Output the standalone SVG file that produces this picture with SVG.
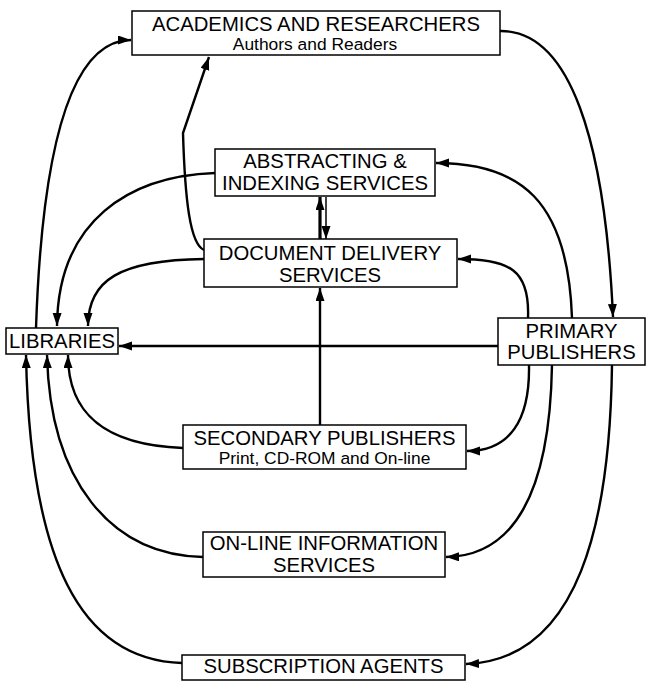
<svg xmlns="http://www.w3.org/2000/svg" width="650" height="691" viewBox="0 0 650 691">
<style>
.box{fill:#fff;stroke:#000;stroke-width:1.5}
.t{font-family:"Liberation Sans",Arial,sans-serif;font-size:20.3px;fill:#000;text-anchor:middle}
.s{font-family:"Liberation Sans",Arial,sans-serif;font-size:17.4px;fill:#000;text-anchor:middle}
.c{fill:none;stroke:#000;stroke-width:2.4;marker-end:url(#ah)}
</style>
<defs>
<marker id="ah" markerUnits="userSpaceOnUse" markerWidth="14" markerHeight="10" refX="13" refY="4.5" orient="auto">
<path d="M0,0 L13,4.5 L0,9 z" fill="#000"/>
</marker>
</defs>
<rect width="650" height="691" fill="#fff"/>
<g id="connectors">
<path class="c" d="M36,328 C42,150 70,40 131,40"/>
<path class="c" d="M500,31 C570,30 605,140 613,317"/>
<path class="c" d="M204,250 C190,244 185,200 183,133 L209,57"/>
<path class="c" d="M215,173 C130,176 58,220 57,326"/>
<path class="c" d="M204,259 C120,260 88,280 88,326"/>
<path class="c" d="M498,346 L119,346"/>
<path class="c" d="M572,318 C568,200 520,163 436,163"/>
<path class="c" d="M528,318 C530,270 510,259 458,259"/>
<path fill="none" stroke="#000" stroke-width="3.2" marker-end="url(#ah)" d="M320,239 L320,197"/>
<path fill="none" stroke="#000" stroke-width="1.5" marker-end="url(#ah)" d="M326,197 L326,239"/>
<path class="c" d="M320,425 L320,288"/>
<path class="c" d="M183,448 C100,445 68,410 68,355"/>
<path class="c" d="M529,365 C530,420 510,451 467,451"/>
<path class="c" d="M552,365 C550,480 520,556 446,557"/>
<path class="c" d="M612,365 C610,520 580,660 466,664"/>
<path class="c" d="M182,663 C80,660 30,560 26,355"/>
<path class="c" d="M203,557 C110,555 50,480 47,355"/>
</g>
<g id="academics">
<rect class="box" x="132" y="11" width="368" height="44"/>
<text class="t" x="316" y="31">ACADEMICS AND RESEARCHERS</text>
<text class="s" x="315" y="50">Authors and Readers</text>
</g>
<g id="abstracting">
<rect class="box" x="215" y="149" width="220" height="47"/>
<text class="t" x="325" y="168">ABSTRACTING &amp;</text>
<text class="t" x="325" y="190">INDEXING SERVICES</text>
</g>
<g id="document-delivery">
<rect class="box" x="204" y="239" width="253" height="48"/>
<text class="t" x="330" y="260">DOCUMENT DELIVERY</text>
<text class="t" x="330" y="282">SERVICES</text>
</g>
<g id="libraries">
<rect class="box" x="6" y="328" width="112" height="26"/>
<text class="t" x="62" y="348">LIBRARIES</text>
</g>
<g id="primary-publishers">
<rect class="box" x="498" y="318" width="147" height="47"/>
<text class="t" x="571.5" y="338">PRIMARY</text>
<text class="t" x="571.5" y="359">PUBLISHERS</text>
</g>
<g id="secondary-publishers">
<rect class="box" x="183" y="425" width="283" height="44"/>
<text class="t" x="324.5" y="445">SECONDARY PUBLISHERS</text>
<text class="s" x="324.5" y="464">Print, CD-ROM and On-line</text>
</g>
<g id="online-services">
<rect class="box" x="203" y="532" width="242" height="45"/>
<text class="t" x="324" y="550">ON-LINE INFORMATION</text>
<text class="t" x="324" y="572">SERVICES</text>
</g>
<g id="subscription-agents">
<rect class="box" x="182" y="655" width="283" height="25"/>
<text class="t" x="323.5" y="673">SUBSCRIPTION AGENTS</text>
</g>
</svg>
